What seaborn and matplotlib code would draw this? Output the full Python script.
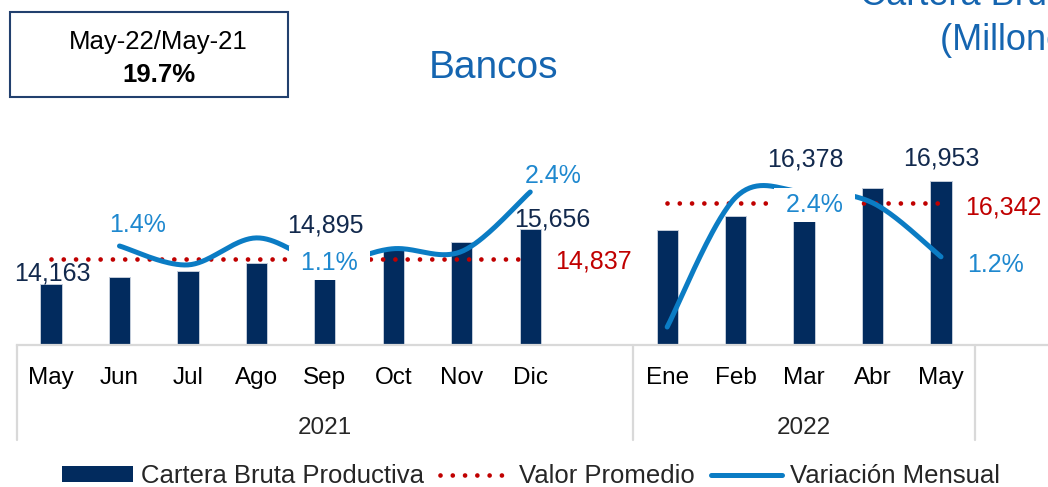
import numpy as np
import pandas as pd
import matplotlib
matplotlib.use("Agg")
import matplotlib.pyplot as plt
import seaborn as sns
from matplotlib.patches import Rectangle, Patch
from matplotlib.lines import Line2D
from matplotlib.transforms import blended_transform_factory

# ---------------- data ----------------
meses_2021 = ["May", "Jun", "Jul", "Ago", "Sep", "Oct", "Nov", "Dic"]
meses_2022 = ["Ene", "Feb", "Mar", "Abr", "May"]
anios = ["2021", "2022"]

# Cartera bruta productiva (millones)
cartera_2021 = [14163, 14360, 14515, 14730, 14895, 15100, 15290, 15656]
cartera_2022 = [15620, 15990, 16378, 16750, 16953]

# Variación mensual (%)
variacion_2021 = [np.nan, 1.4, 1.05, 1.55, 1.1, 1.35, 1.3, 2.4]
variacion_2022 = [-0.1, 2.3, 2.4, 2.2, 1.2]

promedio_2021 = 14837
promedio_2022 = 16342

periodo_anual = "May-22/May-21"
variacion_anual = 19.7

titulo = "Bancos"
titulo_cartera = "Cartera Bruta Productiva"
unidades = "(Millones de US$)"

# ---------------- style ----------------
sns.set_theme(style="white")
plt.rcParams["font.family"] = ["Liberation Sans", "DejaVu Sans"]

NAVY = "#022B5E"
RED = "#C00000"
LINE_BLUE = "#0B7CC4"
PCT_BLUE = "#1E88CF"
TITLE_BLUE = "#1565B0"
LABEL_NAVY = "#12294D"
GRID = "#D9D9D9"

W, H = 1048, 487
fig = plt.figure(figsize=(W / 100, H / 100), dpi=100)

# axes placed in pixel terms
ax_left_px, ax_bottom_px, ax_top_px = 16.8, 345, 100
ax = fig.add_axes([ax_left_px / W, 1 - ax_bottom_px / H,
                   (W - ax_left_px) / W, (ax_bottom_px - ax_top_px) / H])
ax_h_px = ax_bottom_px - ax_top_px

# category positions: one empty slot after each year
pos_2021 = np.arange(len(meses_2021))
pos_2022 = np.arange(len(meses_2021) + 1, len(meses_2021) + 1 + len(meses_2022))
posiciones = np.concatenate([pos_2021, pos_2022])
meses = meses_2021 + meses_2022
cartera = cartera_2021 + cartera_2022
variacion = variacion_2021 + variacion_2022

df = pd.DataFrame({"pos": posiciones, "mes": meses, "cartera": cartera,
                   "variacion": variacion})

sns.barplot(data=df, x="pos", y="cartera", native_scale=True, width=0.31,
            color=NAVY, saturation=1, errorbar=None, edgecolor="#C3CCDA",
            linewidth=0.7, ax=ax, zorder=2)

ax.set_xlim(-0.5, (W - ax_left_px) / 68.46 - 0.5)
y_per_px = 27.0
ymin = 12515
ax.set_ylim(ymin, ymin + ax_h_px * y_per_px)

# average dotted lines
dot_style = dict(color=RED, lw=3.4, linestyle=(0, (0.001, 2.6)),
                 dash_capstyle="round", zorder=3)
ax.plot([pos_2021[0], pos_2021[-1]], [promedio_2021] * 2, **dot_style)
ax.plot([pos_2022[0], pos_2022[-1]], [promedio_2022] * 2, **dot_style)

# secondary axis for monthly variation
ax2 = ax.twinx()
pct_per_px = 1 / 54.0
p_min = 1.4 - (ax_bottom_px - 246) * pct_per_px
ax2.set_ylim(p_min, p_min + ax_h_px * pct_per_px)


def smooth(xs, ys, n=40):
    """Cubic Bezier smoothing through every point (Catmull-Rom tangents)."""
    pts = np.column_stack([xs, ys]).astype(float)
    P = np.vstack([pts[0], pts, pts[-1]])
    out = []
    t = np.linspace(0, 1, n)[:, None]
    for i in range(1, len(P) - 2):
        p0, p1, p2, p3 = P[i - 1], P[i], P[i + 1], P[i + 2]
        c1 = p1 + (p2 - p0) / 6
        c2 = p2 - (p3 - p1) / 6
        seg = ((1 - t) ** 3) * p1 + 3 * ((1 - t) ** 2) * t * c1 \
            + 3 * (1 - t) * t ** 2 * c2 + t ** 3 * p2
        out.append(seg if i == 1 else seg[1:])
    return np.vstack(out)


for pos, var in ((pos_2021, variacion_2021), (pos_2022, variacion_2022)):
    var = np.asarray(var, dtype=float)
    ok = ~np.isnan(var)
    curve = smooth(pos[ok], var[ok])
    ax2.plot(curve[:, 0], curve[:, 1], color=LINE_BLUE, lw=3.6,
             solid_capstyle="round", zorder=3)

for a in (ax, ax2):
    for s in ("left", "right", "top"):
        a.spines[s].set_visible(False)
    a.set_yticks([])
    a.set_ylabel("")
    a.grid(False)
ax2.spines["bottom"].set_visible(False)
ax.spines["bottom"].set_color(GRID)
ax.spines["bottom"].set_linewidth(1.6)
ax.set_xlabel("")

# month tick labels
ax.set_xticks(posiciones)
ax.set_xticklabels(meses, fontsize=17.5, color="black")
ax.tick_params(axis="x", length=0, pad=15.5, labelbottom=True)
ax.set_xlim(-0.5, (W - ax_left_px) / 68.46 - 0.5)

# category table separators and year labels
blend = blended_transform_factory(ax.transData, ax.transAxes)
table_bottom = -(440 - ax_bottom_px) / ax_h_px
for xb in (pos_2021[0] - 0.5, pos_2022[0] - 0.5, pos_2022[-1] + 0.5):
    ax.plot([xb, xb], [0, table_bottom], transform=blend, color=GRID,
            lw=1.6, clip_on=False)
year_y = -(434 - ax_bottom_px) / ax_h_px
ax.text((pos_2021[0] - 0.5 + pos_2022[0] - 0.5) / 2, year_y, anios[0],
        transform=blend, ha="center", va="baseline", fontsize=17.5)
ax.text((pos_2022[0] - 0.5 + pos_2022[-1] + 0.5) / 2, year_y, anios[1],
        transform=blend, ha="center", va="baseline", fontsize=17.5)

PT = 0.72  # points per pixel at 100 dpi

# value labels on selected bars (offsets in pixels)
bar_label_offsets = {0: (1, -13), 4: (1, -34), 7: (22, -12),
                     len(pos_2021) + 2: (1, -45), len(posiciones) - 1: (0, -25)}
for i, (dx, dy) in bar_label_offsets.items():
    ax2.annotate(f"{cartera[i]:,.0f}", xy=(posiciones[i], cartera[i]),
                 xycoords=ax.transData, xytext=(dx * PT, -dy * PT),
                 textcoords="offset points", ha="center", va="center_baseline",
                 fontsize=18, color=LABEL_NAVY, zorder=6)

# variation labels (some on a white box)
pct_label_offsets = {1: (18, -24, False), 4: (5, -2, True), 7: (23, -18, False),
                     len(pos_2021) + 2: (10, 11, True),
                     len(posiciones) - 1: (54, 6, False)}
for i, (dx, dy, boxed) in pct_label_offsets.items():
    txt = f"{variacion[i]:.1f}%"
    kw = {}
    if boxed:
        txt = f" {txt} "
        kw["bbox"] = dict(boxstyle="square,pad=0.2", fc="white", ec="none")
    ax2.annotate(txt, xy=(posiciones[i], variacion[i]),
                 xytext=(dx * PT, -dy * PT), textcoords="offset points",
                 ha="center", va="center_baseline", fontsize=18,
                 color=PCT_BLUE, zorder=7, **kw)

# average labels
ax2.annotate(f"{promedio_2021:,.0f}", xy=(pos_2021[-1], promedio_2021),
             xycoords=ax.transData, xytext=(25 * PT, 0),
             textcoords="offset points", ha="left", va="center_baseline",
             fontsize=18, color=RED)
ax2.annotate(f"{promedio_2022:,.0f}", xy=(pos_2022[-1], promedio_2022),
             xycoords=ax.transData, xytext=(24 * PT, -2 * PT),
             textcoords="offset points", ha="left", va="center_baseline",
             fontsize=18, color=RED)

# titles
fig.text(494 / W, 1 - 64 / H, titulo, ha="center", va="center_baseline",
         fontsize=28, color=TITLE_BLUE)
fig.text(860 / W, 1 - 5 / H, titulo_cartera, ha="left", va="baseline",
         fontsize=26, color=TITLE_BLUE)
fig.text(940 / W, 1 - 50 / H, unidades, ha="left", va="baseline",
         fontsize=26, color=TITLE_BLUE)

# annual variation box
fig.add_artist(Rectangle((10 / W, 1 - 97 / H), 278 / W, 85 / H,
                         transform=fig.transFigure, fill=False,
                         edgecolor="#22406E", lw=1.5))
fig.text(158 / W, 1 - 39 / H, periodo_anual, ha="center",
         va="center_baseline", fontsize=18.5, color="black")
fig.text(159 / W, 1 - 72 / H, f"{variacion_anual:.1f}%", ha="center",
         va="center_baseline", fontsize=18.5, color="black", fontweight="bold")

# legend
handles = [Patch(facecolor=NAVY, edgecolor="none"),
           Line2D([], [], **{k: v for k, v in dot_style.items() if k != "zorder"}),
           Line2D([], [], color=LINE_BLUE, lw=3.6, solid_capstyle="round")]
fig.legend(handles, ["Cartera Bruta Productiva", "Valor Promedio",
                     "Variación Mensual"],
           loc="center", bbox_to_anchor=(531 / W, 11 / H), ncol=3,
           frameon=False, fontsize=18.5, handlelength=2.75, handleheight=0.55,
           handletextpad=0.3, columnspacing=0.65)

fig.savefig("out.png", dpi=100)
